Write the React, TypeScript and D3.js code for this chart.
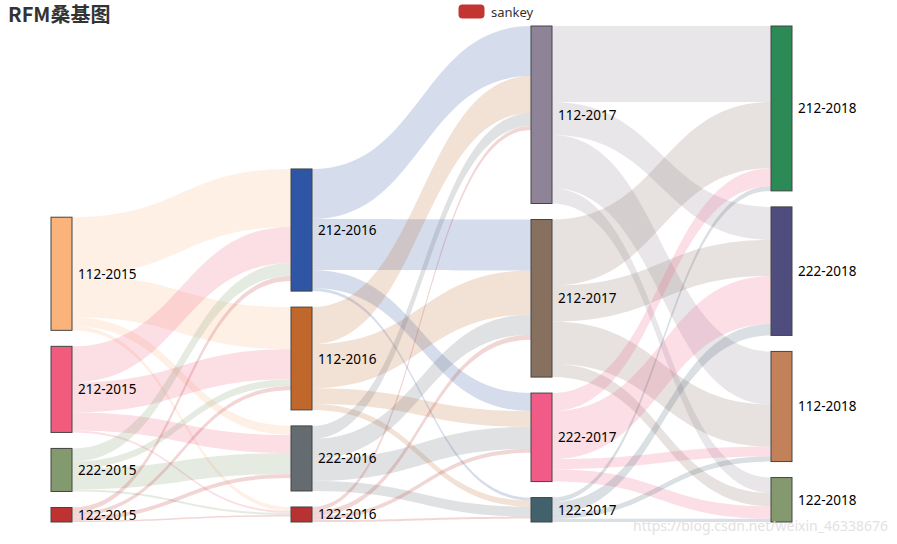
import React from 'react';
import * as d3 from 'd3';

// ---- data ----
const columns: string[][] = [
  ['112-2015', '212-2015', '222-2015', '122-2015'],
  ['212-2016', '112-2016', '222-2016', '122-2016'],
  ['112-2017', '212-2017', '222-2017', '122-2017'],
  ['212-2018', '222-2018', '112-2018', '122-2018'],
];

const nodeColors: Record<string, string> = {
  '112-2015': '#f9b37b',
  '212-2015': '#f05b7e',
  '222-2015': '#829a6e',
  '122-2015': '#bf3232',
  '212-2016': '#2f55a5',
  '112-2016': '#c0682c',
  '222-2016': '#646b71',
  '122-2016': '#b83232',
  '112-2017': '#8f8497',
  '212-2017': '#87705d',
  '222-2017': '#f05b87',
  '122-2017': '#41616c',
  '212-2018': '#2b8a56',
  '222-2018': '#4e4d7e',
  '112-2018': '#c28159',
  '122-2018': '#849a6e',
};

const links2015: [string, string, number][] = [
  ['112-2015', '212-2016', 58], ['112-2015', '112-2016', 42], ['112-2015', '222-2016', 9], ['112-2015', '122-2016', 4],
  ['212-2015', '212-2016', 36], ['212-2015', '112-2016', 30], ['212-2015', '222-2016', 18], ['212-2015', '122-2016', 2],
  ['222-2015', '212-2016', 13], ['222-2015', '112-2016', 7], ['222-2015', '222-2016', 21], ['222-2015', '122-2016', 2],
  ['122-2015', '212-2016', 5], ['122-2015', '112-2016', 4], ['122-2015', '222-2016', 4], ['122-2015', '122-2016', 1.5],
];

const links2016: [string, string, number][] = [
  ['212-2016', '112-2017', 50], ['212-2016', '212-2017', 51], ['212-2016', '222-2017', 18], ['212-2016', '122-2017', 3],
  ['112-2016', '112-2017', 37], ['112-2016', '212-2017', 44], ['112-2016', '222-2017', 15.7], ['112-2016', '122-2017', 6],
  ['222-2016', '112-2017', 13], ['222-2016', '212-2017', 20], ['222-2016', '222-2017', 22], ['222-2016', '122-2017', 10],
  ['122-2016', '112-2017', 4], ['122-2016', '212-2017', 5], ['122-2016', '222-2017', 4], ['122-2016', '122-2017', 2],
];

const links2017: [string, string, number][] = [
  ['112-2017', '212-2018', 76], ['112-2017', '222-2018', 33], ['112-2017', '112-2018', 53], ['112-2017', '122-2018', 15.3],
  ['212-2017', '212-2018', 66], ['212-2017', '222-2018', 36], ['212-2017', '112-2018', 42], ['212-2017', '122-2018', 13.4],
  ['222-2017', '212-2018', 18], ['222-2017', '222-2018', 48], ['222-2017', '112-2018', 10], ['222-2017', '122-2018', 12.4],
  ['122-2017', '212-2018', 4.7], ['122-2017', '222-2018', 11.4], ['122-2017', '112-2018', 5], ['122-2017', '122-2018', 3.3],
];

const titleText = 'RFM桑基图';
const legendLabel = 'sankey';
const legendColor = '#c23531';
const watermark = 'https://blog.csdn.net/weixin_46338676';

// ---- layout ----
const W = 897, H = 544;
const extentX: [number, number] = [51, 792];
const extentY: [number, number] = [26, 522];
const nodeWidth = 21;
const nodeGap = 16;

type N = { name: string; col: number; value: number; x0: number; x1: number; y0: number; y1: number; ins: L[]; outs: L[] };
type L = { source: N; target: N; value: number; width: number; sy: number; ty: number };

function layout() {
  const allLinks = [...links2015, ...links2016, ...links2017];
  const nodeMap = new Map<string, N>();
  columns.forEach((col, ci) => col.forEach(name => {
    nodeMap.set(name, { name, col: ci, value: 0, x0: 0, x1: 0, y0: 0, y1: 0, ins: [], outs: [] });
  }));
  const links: L[] = allLinks.map(([s, t, v]) => {
    const l: L = { source: nodeMap.get(s)!, target: nodeMap.get(t)!, value: v, width: 0, sy: 0, ty: 0 };
    l.source.outs.push(l);
    l.target.ins.push(l);
    return l;
  });
  nodeMap.forEach(n => {
    n.value = Math.max(d3.sum(n.ins, l => l.value), d3.sum(n.outs, l => l.value));
  });
  const xScale = d3.scaleLinear().domain([0, columns.length - 1]).range([extentX[0], extentX[1] - nodeWidth]);
  const ky = d3.min(columns, col =>
    (extentY[1] - extentY[0] - (col.length - 1) * nodeGap) / d3.sum(col, name => nodeMap.get(name)!.value))!;
  columns.forEach((col, ci) => {
    const nodes = col.map(name => nodeMap.get(name)!);
    const total = d3.sum(nodes, n => n.value) * ky + (nodes.length - 1) * nodeGap;
    let y = extentY[1] - total;
    nodes.forEach(n => {
      n.x0 = xScale(ci);
      n.x1 = n.x0 + nodeWidth;
      n.y0 = y;
      n.y1 = y + n.value * ky;
      y = n.y1 + nodeGap;
    });
  });
  links.forEach(l => (l.width = l.value * ky));
  nodeMap.forEach(n => {
    let sy = n.y0;
    [...n.outs].sort((a, b) => a.target.y0 - b.target.y0).forEach(l => { l.sy = sy + l.width / 2; sy += l.width; });
    let ty = n.y0;
    [...n.ins].sort((a, b) => a.source.y0 - b.source.y0).forEach(l => { l.ty = ty + l.width / 2; ty += l.width; });
  });
  return { nodes: Array.from(nodeMap.values()), links };
}

function linkPath(l: L) {
  const x0 = l.source.x1, x1 = l.target.x0;
  const xm = d3.interpolateNumber(x0, x1)(0.5);
  const s0 = l.sy - l.width / 2, s1 = l.sy + l.width / 2;
  const t0 = l.ty - l.width / 2, t1 = l.ty + l.width / 2;
  const p = d3.path();
  p.moveTo(x0, s0);
  p.bezierCurveTo(xm, s0, xm, t0, x1, t0);
  p.lineTo(x1, t1);
  p.bezierCurveTo(xm, t1, xm, s1, x0, s1);
  p.closePath();
  return p.toString();
}

export default function App() {
  const { nodes, links } = layout();
  const font = '"Noto Sans", "Noto Sans CJK SC", sans-serif';
  return (
    <div style={{ position: 'fixed', left: 0, top: 0 }}>
      <svg width={W} height={H} style={{ display: 'block', background: '#fff' }}>
        <text x={8} y={22} fontFamily='"Noto Sans CJK SC", sans-serif' fontWeight="bold" fontSize={20} fill="#333">{titleText}</text>
        <g>
          <rect x={458.5} y={4.5} width={26} height={14} rx={4} ry={4} fill={legendColor} />
          <text x={491} y={12} dominantBaseline="central" fontFamily={font} fontSize={13} fill="#333">{legendLabel}</text>
        </g>
        <g>
          {links.map((l, i) => (
            <path key={i} d={linkPath(l)} fill={nodeColors[l.source.name]} fillOpacity={0.2} stroke="none" />
          ))}
        </g>
        <g>
          {nodes.map(n => (
            <rect key={n.name} x={n.x0} y={n.y0} width={n.x1 - n.x0} height={n.y1 - n.y0}
              fill={nodeColors[n.name]} stroke="#444" strokeWidth={1} />
          ))}
        </g>
        <g>
          {nodes.map(n => (
            <text key={n.name} x={n.x1 + 6} y={(n.y0 + n.y1) / 2} dominantBaseline="central"
              fontFamily={font} fontSize={13.5} fill="#000">{n.name}</text>
          ))}
        </g>
        <text x={888} y={531} textAnchor="end" fontFamily={font} fontSize={14} fill="#e2e2e2">{watermark}</text>
      </svg>
    </div>
  );
}
